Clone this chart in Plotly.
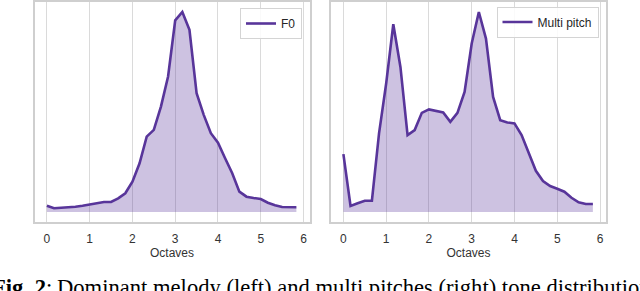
import plotly.graph_objects as go

# x positions: sixth-octave bins
octaves = [i / 6 for i in range(36)]

# Dominant melody (F0) tone distribution (relative units)
f0_density = [6.3, 3.7, 4.3, 4.7, 5.3, 6.3, 7.7, 8.7, 10, 10, 13.7, 18.7,
              30.3, 48.7, 75.3, 82, 105.3, 135.3, 191.3, 199.7, 182, 118.7,
              97, 78.7, 69.3, 53.7, 38.7, 20.3, 15.3, 14, 13, 9.3, 6.7, 5,
              4.7, 4.7]

# Multi pitch tone distribution (relative units)
multi_density = [58, 6, 8.7, 11.3, 11.3, 78.7, 128.7, 188, 145.3, 77, 82,
                 99.3, 102.7, 101.3, 99.7, 90.3, 99.3, 120.3, 168.7, 200.3,
                 173.7, 115.3, 92, 89.7, 88.7, 77, 58.7, 41.3, 31, 26, 23.3,
                 20.3, 14.3, 9.7, 8, 8]

tick_vals = [0, 1, 2, 3, 4, 5, 6]
tick_text = ["0", "1", "2", "3", "4", "5", "6"]

LINE = "#58359a"
FILL = "rgba(88,53,154,0.30)"
W, H = 640, 291
SANS = "Liberation Sans, Arial"

fig = go.Figure()

def add_panel(ys, name, xa, ya, legend):
    fig.add_trace(go.Scatter(x=octaves, y=ys, mode="lines", fill="tozeroy",
                             fillcolor=FILL, line=dict(width=0, color=FILL),
                             showlegend=False, hoverinfo="skip",
                             xaxis=xa, yaxis=ya))
    fig.add_trace(go.Scatter(x=octaves, y=ys, mode="lines", name=name,
                             line=dict(width=2.6, color=LINE),
                             xaxis=xa, yaxis=ya, legend=legend))

add_panel(f0_density, "F0", "x", "y", "legend")
add_panel(multi_density, "Multi pitch", "x2", "y2", "legend2")

ydom = [1 - 221.5 / H, 1 - 2 / H]
xcommon = dict(range=[-0.29, 6.14], tickvals=tick_vals, ticktext=tick_text,
               showgrid=True, gridcolor="#dadada", gridwidth=1,
               showline=True, linecolor="#cfcfcf", linewidth=1.5, mirror=True,
               ticks="outside", ticklen=5, tickcolor="rgba(0,0,0,0)",
               tickfont=dict(family=SANS, size=12, color="#333333"),
               zeroline=False, automargin=False,
               title=dict(text="Octaves", standoff=1,
                          font=dict(family=SANS, size=12, color="#333333")))

def yax(ys):
    m = max(ys)
    return dict(range=[-0.0475 * m, 1.05 * m], showticklabels=False,
                showgrid=False, zeroline=False, showline=True,
                linecolor="#cfcfcf", linewidth=1.5, mirror=True, ticks="",
                domain=ydom, automargin=False)

leg = dict(bgcolor="rgba(255,255,255,0.85)", bordercolor="#d4d4d4", borderwidth=1,
           font=dict(family=SANS, size=12, color="#262626"),
           xanchor="right", yanchor="top", itemwidth=30,
           tracegroupgap=0)

fig.update_layout(
    width=W, height=H, margin=dict(l=0, r=0, t=0, b=0, pad=0, autoexpand=False),
    plot_bgcolor="white", paper_bgcolor="white",
    xaxis=dict(domain=[34.5 / W, 309.5 / W], anchor="y", **xcommon),
    xaxis2=dict(domain=[331 / W, 606 / W], anchor="y2", **xcommon),
    yaxis=dict(anchor="x", **yax(f0_density)),
    yaxis2=dict(anchor="x2", **yax(multi_density)),
    legend=dict(x=302 / W, y=1 - 8 / H, **leg),
    legend2=dict(x=598.5 / W, y=1 - 6.5 / H, **leg),
    showlegend=True,
)

cap_font = dict(family="Liberation Serif, Times New Roman", size=22.6, color="black")
fig.add_annotation(text="<b>Fig. 2</b>:", xref="paper", yref="paper",
                   x=53.5 / W, y=0, xanchor="right", yanchor="bottom",
                   showarrow=False, font=cap_font, yshift=-11)
fig.add_annotation(text="Dominant melody (left) and multi pitches (right) tone distributions",
                   xref="paper", yref="paper", x=55 / W, y=0,
                   xanchor="left", yanchor="bottom", showarrow=False,
                   font=cap_font, yshift=-11)

fig.write_html("out.html", config={"displayModeBar": False},
               post_script="document.body.style.margin='0';document.body.style.overflow='hidden';")
